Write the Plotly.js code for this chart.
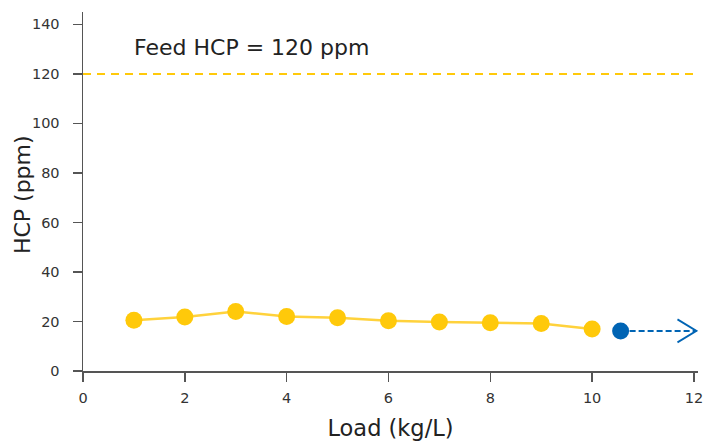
<!DOCTYPE html>
<html>
<head>
<meta charset="utf-8">
<script src="https://cdn.plot.ly/plotly-3.0.1.min.js"></script>
<style>html,body{margin:0;padding:0;background:#fff}#chart{width:704px;height:441px}</style>
</head>
<body>
<div id="chart"></div>
<script>
// Data
const loadX = [1, 2, 3, 4, 5, 6, 7, 8, 9, 10];
const hcpY = [20.5, 21.8, 24.0, 22.0, 21.5, 20.3, 19.8, 19.5, 19.2, 17.0];
const lastX = [10.56];
const lastY = [16.2];
const arrowEndX = 12.05;
const feedHCP = 120;
const feedLabel = "Feed HCP = 120 ppm";
const xTitle = "Load (kg/L)";
const yTitle = "HCP (ppm)";
const xTicks = [0, 2, 4, 6, 8, 10, 12];
const yTicks = [0, 20, 40, 60, 80, 100, 120, 140];

const FONT = "DejaVu Sans, Verdana, sans-serif";
const yellow = "#FFC90A";
const blue = "#0064B4";

const traces = [
  {
    x: loadX, y: hcpY, type: "scatter", mode: "lines+markers",
    line: {color: "#FFD23C", width: 2.5},
    marker: {color: yellow, size: 17},
    hoverinfo: "skip"
  },
  {
    x: [lastX[0], arrowEndX], y: [lastY[0], lastY[0]], type: "scatter", mode: "lines",
    line: {color: blue, width: 2, dash: "6px,3px"},
    hoverinfo: "skip"
  },
  {
    x: lastX, y: lastY, type: "scatter", mode: "markers",
    marker: {color: blue, size: 17},
    hoverinfo: "skip"
  }
];

const layout = {
  width: 704, height: 441,
  margin: {l: 83, r: 6, t: 12, b: 70},
  paper_bgcolor: "#fff", plot_bgcolor: "#fff",
  showlegend: false,
  font: {family: FONT, color: "#333", size: 14.5},
  xaxis: {
    range: [0, 12.08], tickvals: xTicks, ticktext: xTicks.map(String),
    showgrid: false, zeroline: false,
    showline: true, linecolor: "#555", linewidth: 1.5,
    ticks: "outside", ticklen: 9, tickwidth: 1.5, tickcolor: "#555",
    ticklabelstandoff: 4,
    tickfont: {family: FONT, size: 14.5, color: "#333"},
    title: {text: xTitle, font: {family: FONT, size: 22.5, color: "#222"}, standoff: 20}
  },
  yaxis: {
    range: [0, 145], tickvals: yTicks, ticktext: yTicks.map(String),
    showgrid: false, zeroline: false,
    showline: true, linecolor: "#555", linewidth: 1.5,
    ticks: "outside", ticklen: 9, tickwidth: 1.5, tickcolor: "#555",
    ticklabelstandoff: 10,
    tickfont: {family: FONT, size: 14.5, color: "#333"}
  },
  shapes: [
    {type: "line", xref: "paper", x0: 0, x1: 1, yref: "y", y0: feedHCP, y1: feedHCP,
     line: {color: yellow, width: 2, dash: "8px,6px"}},
    {type: "path", xref: "x", yref: "y", xsizemode: "pixel", ysizemode: "pixel",
     xanchor: arrowEndX, yanchor: lastY[0],
     path: "M-19,11.5 L0,0 L-19,-11.5",
     line: {color: blue, width: 1.8}}
  ],
  annotations: [
    {xref: "x", yref: "y", x: 0.97, y: 130.5, xanchor: "left", yanchor: "middle",
     text: feedLabel, showarrow: false, font: {family: FONT, size: 22, color: "#222"}},
    {xref: "paper", yref: "paper", x: 0, y: 0.49, xshift: -61, xanchor: "center", yanchor: "middle",
     textangle: -90, text: yTitle, showarrow: false, font: {family: FONT, size: 22, color: "#222"}}
  ]
};

Plotly.newPlot("chart", traces, layout, {displayModeBar: false, staticPlot: true});
</script>
</body>
</html>
